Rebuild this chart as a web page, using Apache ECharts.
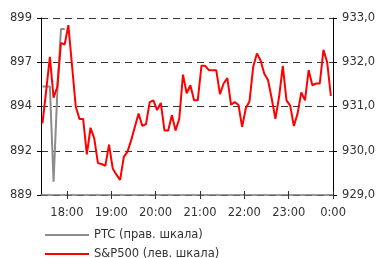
<!DOCTYPE html>
<html>
<head>
<meta charset="utf-8">
<script src="https://cdn.jsdelivr.net/npm/echarts@6/dist/echarts.min.js"></script>
<style>
  html, body { margin: 0; padding: 0; background: #fff; }
  #chart { width: 378px; height: 258px; }
</style>
</head>
<body>
<div id="chart"></div>
<script>
// sampling grid: every 5 minutes from 17:27 to 23:57 (minutes of the day)
var startMinute = 1047;
var stepMinute = 5;

// S&P500, left scale
var spx = [893.05, 894.9, 896.8, 894.5, 895.1, 897.6, 897.5, 898.6, 896.3, 894.0,
  893.3, 893.3, 891.3, 892.8, 892.2, 890.8, 890.75, 890.65, 891.85, 890.5,
  890.15, 889.85, 891.15, 891.45, 892.1, 892.85, 893.6, 892.9, 893.0, 894.25,
  894.35, 893.8, 894.2, 892.65, 892.65, 893.5, 892.65, 893.3, 895.8, 894.75,
  895.2, 894.35, 894.35, 896.3, 896.3, 896.05, 896.05, 896.05, 894.7, 895.3,
  895.6, 894.1, 894.25, 894.1, 892.85, 893.9, 894.3, 896.25, 897.0, 896.6,
  895.85, 895.5, 894.45, 893.3, 894.55, 896.3, 894.35, 894.05, 892.9, 893.6,
  894.8, 894.35, 896.05, 895.2, 895.3, 895.3, 897.2, 896.5, 894.6];

// PTC, right scale (only the first minutes)
var ptc = [931.45, 931.45, 931.45, 929.3, 931.3, 932.75, 932.75];

var hourTicks = [1080, 1140, 1200, 1260, 1320, 1380, 1440];

function hhmm(v) {
  var h = Math.floor(v / 60) % 24;
  var m = v % 60;
  return h + ':' + (m < 10 ? '0' : '') + m;
}

var spxData = spx.map(function (v, i) { return [startMinute + i * stepMinute, v]; });
var ptcData = ptc.map(function (v, i) { return [startMinute + i * stepMinute, v]; });

var font = 'DejaVu Sans';
var legendText = { fontFamily: font, fontSize: 11.5, color: '#333' };

var option = {
  animation: false,
  grid: { left: 41, right: 44, top: 18, bottom: 63 },
  legend: [{
    left: 45,
    top: 229,
    padding: 0,
    icon: 'rect',
    itemWidth: 44,
    itemHeight: 2,
    textStyle: legendText,
    data: ['PTC (прав. шкала)']
  }, {
    left: 45,
    top: 248,
    padding: 0,
    icon: 'rect',
    itemWidth: 44,
    itemHeight: 2,
    textStyle: legendText,
    data: ['S&P500 (лев. шкала)']
  }],
  xAxis: [{
    type: 'value',
    min: 1045,
    max: 1440,
    splitLine: { show: false },
    axisLine: { lineStyle: { color: '#777', width: 1.5 } },
    axisTick: { customValues: hourTicks, length: 4, lineStyle: { color: '#333', width: 1 } },
    axisLabel: {
      customValues: hourTicks,
      margin: 12,
      fontFamily: font, fontSize: 11.5, color: '#333',
      formatter: hhmm
    }
  }, {
    type: 'value',
    position: 'bottom',
    min: 1045,
    max: 1440,
    splitLine: { show: false },
    axisLine: { show: false },
    axisTick: { inside: true, customValues: hourTicks, length: 4, lineStyle: { color: '#333', width: 1 } },
    axisLabel: { show: false }
  }],
  yAxis: [{
    type: 'value',
    min: 889,
    max: 899,
    interval: 2.5,
    axisLine: { show: true, lineStyle: { color: '#000' } },
    axisTick: { show: true, length: 4, lineStyle: { color: '#000' } },
    axisLabel: {
      margin: 9,
      fontFamily: font, fontSize: 11.5, color: '#333',
      formatter: function (v) { return Math.round(v); }
    },
    splitLine: { lineStyle: { color: '#333', type: [7, 5], width: 1 } }
  }, {
    type: 'value',
    position: 'right',
    min: 929,
    max: 933,
    interval: 1,
    axisLine: { show: true, lineStyle: { color: '#000' } },
    axisTick: { show: true, length: 4, lineStyle: { color: '#000' } },
    axisLabel: {
      margin: 9,
      fontFamily: font, fontSize: 11.5, color: '#333',
      formatter: function (v) { return v.toFixed(1).replace('.', ','); }
    },
    splitLine: { show: false }
  }],
  series: [{
    name: 'PTC (прав. шкала)',
    type: 'line',
    yAxisIndex: 1,
    symbol: 'none',
    lineStyle: { color: '#8c8c8c', width: 2 },
    itemStyle: { color: '#8c8c8c' },
    data: ptcData
  }, {
    name: 'S&P500 (лев. шкала)',
    type: 'line',
    yAxisIndex: 0,
    symbol: 'none',
    lineStyle: { color: '#ff0000', width: 2 },
    itemStyle: { color: '#ff0000' },
    data: spxData
  }]
};

var chart = echarts.init(document.getElementById('chart'));
chart.setOption(option);
</script>
</body>
</html>
